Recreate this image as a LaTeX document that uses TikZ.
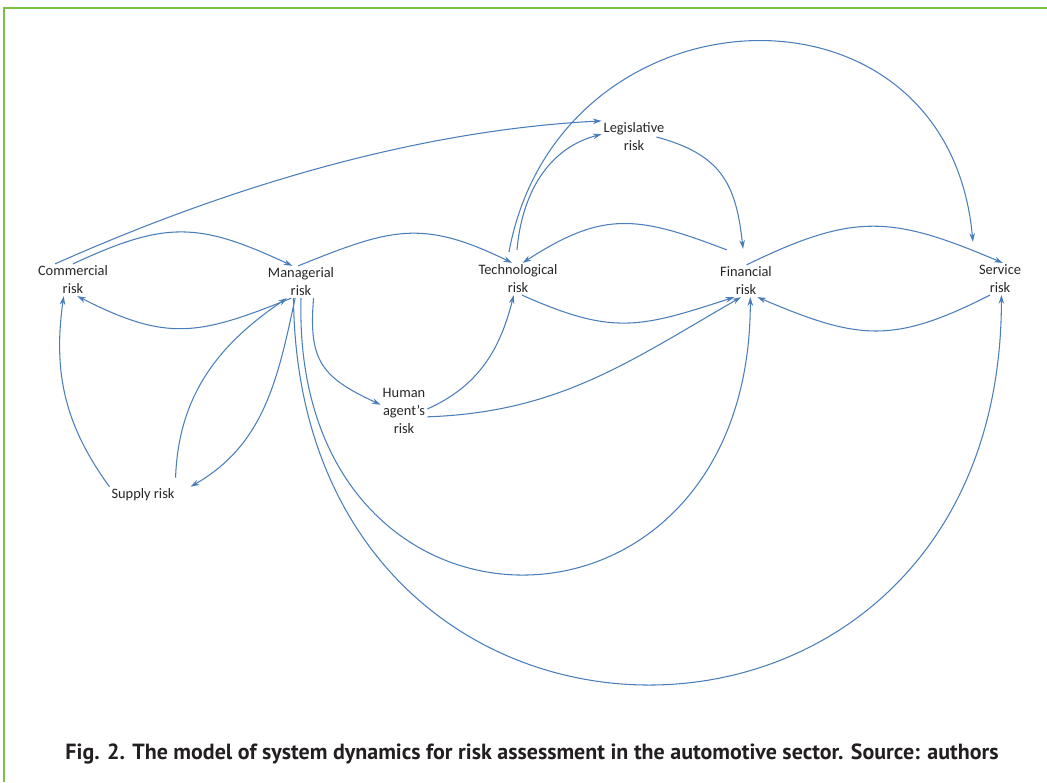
\documentclass[tikz,border=0pt]{standalone}
\usepackage{fontspec}
\setmainfont{Carlito}
\newfontfamily\capfont{PT Sans}
\usepackage{xcolor}
\usetikzlibrary{arrows.meta}
\definecolor{linkblue}{RGB}{74,126,187}
\definecolor{framegreen}{RGB}{122,193,67}
\definecolor{captext}{RGB}{35,31,32}

\begin{document}
\begin{tikzpicture}[x=0.02cm, y=0.02cm, > = {Stealth[length=5pt,width=3.2pt]},
    risk/.style = {align=center, inner sep=1pt, font=\fontsize{8.2}{10.2}\selectfont, text=black!85},
    link/.style = {->, linkblue, line width=0.6pt}]
  \useasboundingbox (0,0) rectangle (1047,782);
  \draw[framegreen, line width=1pt] (4,0) -- (4,774) -- (1047,774);

  \node[risk] (com)  at (73,502)  {Commercial\\risk};
  \node[risk] (man)  at (301,500) {Managerial\\risk};
  \node[risk] (tech) at (518,503) {Technological\\risk};
  \node[risk] (fin)  at (746,501) {Financial\\risk};
  \node[risk] (serv) at (1000,503) {Service\\risk};
  \node[risk] (leg)  at (634,645) {Legislative\\risk};
  \node[risk] (hum)  at (404,371) {Human\\agent’s\\risk};
  \node[risk] (sup)  at (143,287) {Supply risk};

  \draw[link] (com.138) to[out=24, in=183, looseness=0.85] (leg.north west);
  \draw[link] (com.north) to[out=25, in=155, looseness=1.2] (man.118);
  \draw[link] (man.239) to[out=202, in=333, looseness=1.2] (com.285);
  \draw[link] (man.100) to[out=22, in=154, looseness=1.2] (tech.110);
  \draw[link] (tech.284) to[out=336, in=198, looseness=1.2] (fin.234);
  \draw[link] ([shift={(0,15)}]fin.140) to[out=159, in=33, looseness=1.2] (tech.74);
  \draw[link] (fin.88) to[out=26, in=157, looseness=1.2] (serv.80);
  \draw[link] (serv.238) to[out=207, in=337, looseness=1.2] (fin.305);
  \draw[link] ([shift={(-1,13)}]tech.north) to[out=85, in=195] (leg.175);
  \draw[link] ([shift={(-9,11)}]tech.north) .. controls +(50,270) and +(-25,278) .. ([shift={(-4,21)}]serv.north west);
  \draw[link] ([shift={(-10,0)}]leg.east) to[out=-15, in=96, looseness=1.2] ([shift={(-3,16)}]fin.north);
  \draw[link] (man.308) to[out=265, in=155, looseness=1.3] (hum.165);
  \draw[link] (hum.5) to[out=24, in=256] (tech.255);
  \draw[link] (hum.346) to[out=2, in=210] (fin.253);
  \draw[link] (sup.north west) to[out=126, in=262] (com.240);
  \draw[link] ([shift={(-1,9)}]sup.north east) to[out=88, in=214] (man.229);
  \draw[link] (man.250) to[out=258, in=30] ([shift={(14,0)}]sup.north east);
  \draw[link] (man.270) .. controls +(-10,-369) and +(0,-369) .. (fin.285);
  \draw[link] (man.245) .. controls +(5,-517) and +(0,-517) .. (serv.275);

  \node[font=\capfont\bfseries\fontsize{12.5}{15}\selectfont, text=captext] (cap) at (532,28)
    {Fig. 2. The model of system dynamics for risk assessment in the automotive sector. Source: authors};
\end{tikzpicture}
\end{document}
